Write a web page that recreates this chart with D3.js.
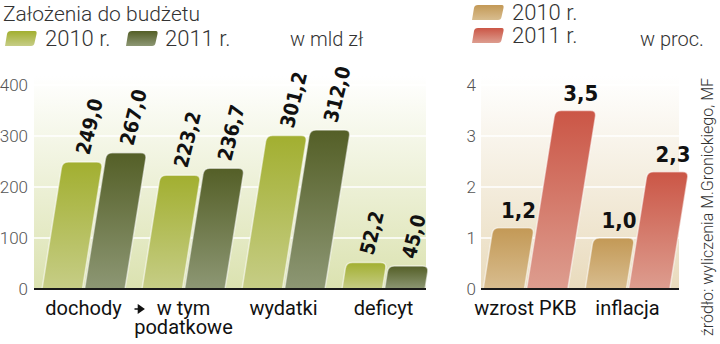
<!DOCTYPE html>
<html lang="pl">
<head>
<meta charset="UTF-8">
<title>Założenia do budżetu</title>
<script src="https://d3js.org/d3.v7.min.js"></script>
<style>
  body, html { margin: 0; padding: 0; background: #fff; overflow: hidden; }
  text { font-family: Roboto, "DejaVu Sans", sans-serif; }
  .light { font-weight: 300; fill: #333; }
  .tick-label { font-size: 17px; font-weight: 300; fill: #555; }
  .cat { font-size: 20px; fill: #111; }
  .val { font-family: "DejaVu Sans Condensed", "DejaVu Sans", sans-serif; font-weight: bold; fill: #111; }
</style>
</head>
<body>
<svg id="chart" width="720" height="344"></svg>
<script>
// data
const budgetCats = ["dochody", "w tym\npodatkowe", "wydatki", "deficyt"];
const budget2010 = [249.0, 223.2, 301.2, 52.2];
const budget2011 = [267.0, 236.7, 312.0, 45.0];
const macroCats = ["wzrost PKB", "inflacja"];
const macro2010 = [1.2, 1.0];
const macro2011 = [3.5, 2.3];
const years = ["2010 r.", "2011 r."];
const budgetTicks = [0, 100, 200, 300, 400];
const macroTicks = [0, 1, 2, 3, 4];

const svg = d3.select("#chart");
const defs = svg.append("defs");
const fmt = v => d3.format(".1f")(v).replace(".", ",");
const slant = 0.16; // horizontal shift per px of height

function vGrad(id, top, bottom) {
  const g = defs.append("linearGradient").attr("id", id)
    .attr("x1", 0).attr("y1", 0).attr("x2", 0).attr("y2", 1);
  g.append("stop").attr("offset", "0%").attr("stop-color", top);
  g.append("stop").attr("offset", "100%").attr("stop-color", bottom);
}
vGrad("g10", "#a2af30", "#c6cd86");
vGrad("g11", "#545f27", "#8d9774");
vGrad("r10", "#c39956", "#d8bd8f");
vGrad("r11", "#cb5646", "#dd9d8f");
vGrad("bgGreen", "#ffffff", "#dbe2b0");
vGrad("bgBeige", "#ffffff", "#e9dbbd");

// slanted bar with rounded top corners
function barPath(x0, w, yTop, yBase) {
  const h = yBase - yTop, r = Math.min(6, h / 2);
  const sx = yy => (yBase - yy) * slant;
  const p = d3.path();
  p.moveTo(x0, yBase);
  p.lineTo(x0 + sx(yTop + r), yTop + r);
  p.quadraticCurveTo(x0 + sx(yTop), yTop, x0 + sx(yTop) + r, yTop);
  p.lineTo(x0 + sx(yTop) + w - r, yTop);
  p.quadraticCurveTo(x0 + sx(yTop) + w, yTop, x0 + sx(yTop + r) + w, yTop + r);
  p.lineTo(x0 + w, yBase);
  p.closePath();
  return p.toString();
}

function panel(opts) {
  const { cats, v10, v11, ticks, max, range, left, right, bg, c10, c11, tickX, rotated } = opts;
  const y = d3.scaleLinear().domain([0, max]).range([289, 85]);
  const x = d3.scaleBand().domain(cats).range(range).paddingInner(0.17).paddingOuter(0.085);
  const xi = d3.scaleBand().domain(years).range([0, x.bandwidth()]).paddingInner(0.05);
  const g = svg.append("g");

  g.append("rect").attr("x", left).attr("y", 76).attr("width", right - left)
    .attr("height", y(0) - 76).attr("fill", `url(#${bg})`);

  g.selectAll(".grid").data(ticks.filter(t => t > 0)).join("line")
    .attr("x1", left).attr("x2", right)
    .attr("y1", d => y(d)).attr("y2", d => y(d))
    .attr("stroke", "#fff").attr("stroke-width", 1.6);

  g.selectAll(".tick-label").data(ticks).join("text")
    .attr("class", "tick-label")
    .attr("x", tickX).attr("y", d => y(d))
    .attr("text-anchor", "end").attr("dominant-baseline", "central")
    .text(d => d);

  const rows = [];
  cats.forEach((c, i) => {
    rows.push({ cat: c, year: years[0], v: v10[i], fill: c10 });
    rows.push({ cat: c, year: years[1], v: v11[i], fill: c11 });
  });

  g.selectAll(".bar").data(rows).join("path")
    .attr("d", d => barPath(x(d.cat) + xi(d.year), xi.bandwidth(), y(d.v), y(0)))
    .attr("fill", d => `url(#${d.fill})`)
    .attr("stroke", "rgba(255,255,255,0.55)").attr("stroke-width", 1.5);

  const topCx = d => x(d.cat) + xi(d.year) + xi.bandwidth() / 2 + (y(0) - y(d.v)) * slant;

  if (rotated) {
    g.selectAll(".val").data(rows).join("text")
      .attr("class", "val").attr("font-size", 20)
      .attr("dominant-baseline", "central")
      .attr("transform", d => `translate(${topCx(d)},${y(d.v) - 8}) rotate(-76)`)
      .text(d => fmt(d.v));
  } else {
    g.selectAll(".val").data(rows).join("text")
      .attr("class", "val").attr("font-size", 22)
      .attr("text-anchor", "middle")
      .attr("x", d => topCx(d) + 5).attr("y", d => y(d.v) - 10)
      .text(d => fmt(d.v));
  }

  g.append("line").attr("x1", left).attr("x2", right)
    .attr("y1", y(0)).attr("y2", y(0))
    .attr("stroke", "#1a1a1a").attr("stroke-width", 2);

  const lab = g.selectAll(".cat").data(cats).join("text")
    .attr("class", "cat").attr("text-anchor", "middle")
    .attr("x", d => x(d) + x.bandwidth() / 2)
    .attr("y", 315);
  lab.selectAll("tspan").data(d => d.split("\n")).join("tspan")
    .attr("x", function () { return d3.select(this.parentNode).attr("x"); })
    .attr("dy", (d, i) => i ? 19 : 0)
    .text(d => d);

  return { x, y };
}

const L = panel({
  cats: budgetCats, v10: budget2010, v11: budget2011, ticks: budgetTicks, max: 400,
  range: [33.5, 433.5], left: 34, right: 426, bg: "bgGreen", c10: "g10", c11: "g11",
  tickX: 28, rotated: true
});
panel({
  cats: macroCats, v10: macro2010, v11: macro2011, ticks: macroTicks, max: 4,
  range: [474.5, 678.5], left: 481, right: 679, bg: "bgBeige", c10: "r10", c11: "r11",
  tickX: 476, rotated: false
});

// arrow between dochody and w tym podatkowe
const ax = (L.x(budgetCats[0]) + L.x.bandwidth() + L.x(budgetCats[1])) / 2 + 6;
svg.append("path")
  .attr("d", `M${ax - 5},309 H${ax + 1} M${ax - 1},305.5 L${ax + 4},309 L${ax - 1},312.5 Z`)
  .attr("stroke", "#111").attr("stroke-width", 1.6).attr("fill", "#111");

// title & legends
svg.append("text").attr("class", "light").attr("x", 3).attr("y", 21)
  .attr("font-size", 21).text("Założenia do budżetu");

function swatch(x0, y0, fill) {
  svg.append("path")
    .attr("d", `M${x0},${y0 + 15} L${x0 + 2},${y0 + 3} Q${x0 + 2.5},${y0} ${x0 + 6},${y0} H${x0 + 30} Q${x0 + 32},${y0} ${x0 + 31.5},${y0 + 3} L${x0 + 29.5},${y0 + 12} Q${x0 + 29},${y0 + 15} ${x0 + 26},${y0 + 15} Z`)
    .attr("fill", `url(#${fill})`);
}
swatch(5, 31, "g10");
svg.append("text").attr("class", "light").attr("x", 45).attr("y", 46).attr("font-size", 22).text(years[0]);
swatch(126, 31, "g11");
svg.append("text").attr("class", "light").attr("x", 165).attr("y", 46).attr("font-size", 22).text(years[1]);
svg.append("text").attr("class", "light").attr("x", 290).attr("y", 46).attr("font-size", 20).text("w mld zł");

swatch(472, 5, "r10");
svg.append("text").attr("class", "light").attr("x", 512).attr("y", 20).attr("font-size", 22).text(years[0]);
swatch(472, 28, "r11");
svg.append("text").attr("class", "light").attr("x", 512).attr("y", 43).attr("font-size", 22).text(years[1]);
svg.append("text").attr("class", "light").attr("x", 640).attr("y", 46).attr("font-size", 20).text("w proc.");

svg.append("text").attr("class", "light")
  .attr("transform", "translate(713,336) rotate(-90)")
  .attr("font-size", 16).attr("fill", "#444")
  .text("źródło: wyliczenia M.Gronickiego, MF");
</script>
</body>
</html>
